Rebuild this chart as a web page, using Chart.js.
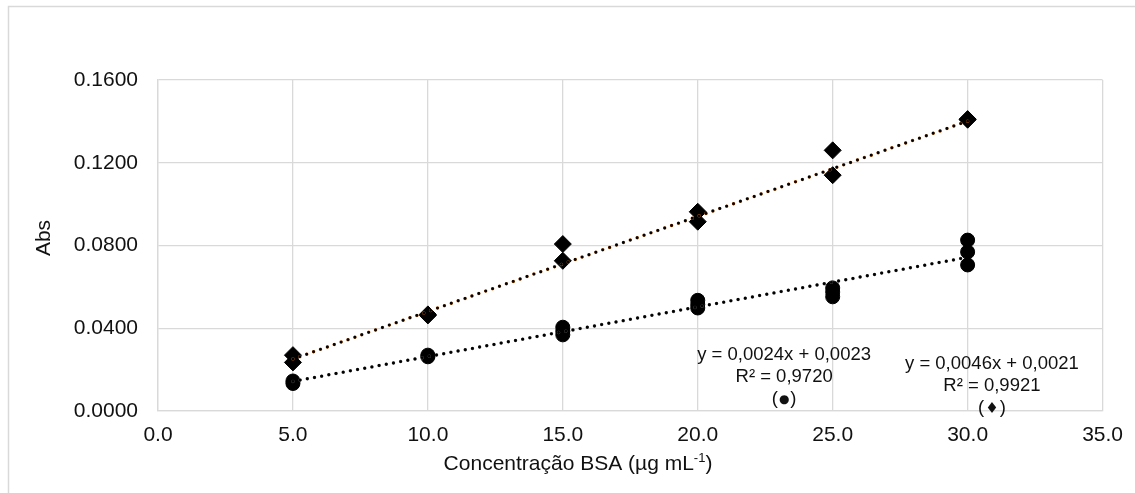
<!DOCTYPE html>
<html>
<head>
<meta charset="utf-8">
<script src="https://cdn.jsdelivr.net/npm/chart.js@4.4.1/dist/chart.umd.min.js"></script>
<style>
  html, body { margin: 0; padding: 0; background: #fff; }
  #wrap { width: 1135px; height: 493px; position: relative; }
</style>
</head>
<body>
<div id="wrap"><canvas id="c" width="1135" height="493"></canvas></div>
<script>
// ---- data ----
const diamondX = [5, 5, 10, 10, 15, 15, 20, 20, 25, 25, 30, 30];
const diamondY = [0.027, 0.0235, 0.0467, 0.0462, 0.0807, 0.0726, 0.0963, 0.0915, 0.1260, 0.1140, 0.1411, 0.1408];
const circleX = [5, 5, 10, 10, 15, 15, 15, 20, 20, 20, 25, 25, 25, 30, 30, 30];
const circleY = [0.0145, 0.0133, 0.0270, 0.0262, 0.0405, 0.0386, 0.0368, 0.0535, 0.0515, 0.0498, 0.0595, 0.0575, 0.0552, 0.0826, 0.0769, 0.0706];
const trendX = [5, 30];
const trendDiamondY = [0.0251, 0.1401];
const trendCircleY = [0.0143, 0.0743];
const xTicks = [0, 5, 10, 15, 20, 25, 30, 35];
const yTicks = [0, 0.04, 0.08, 0.12, 0.16];
const xTitle = 'Concentração BSA (µg mL';
const xTitleSup = '-1';
const xTitleEnd = ')';
const yTitle = 'Abs';
const eqCircle = ['y = 0,0024x + 0,0023', 'R² = 0,9720', '(●)'];
const eqDiamond = ['y = 0,0046x + 0,0021', 'R² = 0,9921', '(♦)'];

const pts = (xs, ys) => xs.map((x, i) => ({ x: x, y: ys[i] }));

const FONT = '"Liberation Sans", Arial, sans-serif';

const framePlugin = {
  id: 'frame',
  beforeDraw(chart) {
    const ctx = chart.ctx;
    ctx.save();
    ctx.fillStyle = '#fff';
    ctx.fillRect(0, 0, chart.width, chart.height);
    ctx.strokeStyle = '#d9d9d9';
    ctx.lineWidth = 1.5;
    ctx.beginPath();
    ctx.moveTo(8.5, chart.height + 2);
    ctx.lineTo(8.5, 6.5);
    ctx.lineTo(chart.width + 2, 6.5);
    ctx.stroke();
    ctx.restore();
  },
  afterDraw(chart) {
    const ctx = chart.ctx;
    const xs = chart.scales.x, ys = chart.scales.y;
    ctx.save();
    ctx.fillStyle = '#111';
    // x title with superscript
    ctx.font = '21px ' + FONT;
    ctx.textBaseline = 'middle';
    const w1 = ctx.measureText(xTitle).width;
    ctx.font = '13px ' + FONT;
    const w2 = ctx.measureText(xTitleSup).width;
    ctx.font = '21px ' + FONT;
    const w3 = ctx.measureText(xTitleEnd).width;
    const total = w1 + w2 + w3;
    let sx = 578 - total / 2;
    const ty = 464;
    ctx.textAlign = 'left';
    ctx.fillText(xTitle, sx, ty);
    ctx.font = '13px ' + FONT;
    ctx.fillText(xTitleSup, sx + w1, ty - 6);
    ctx.font = '21px ' + FONT;
    ctx.fillText(xTitleEnd, sx + w1 + w2, ty);
    // y title
    ctx.save();
    ctx.translate(44, 238);
    ctx.rotate(-Math.PI / 2);
    ctx.textAlign = 'center';
    ctx.fillText(yTitle, 0, 0);
    ctx.restore();
    // equations
    ctx.font = '18.5px ' + FONT;
    ctx.textAlign = 'center';
    const drawEq = (lines, xv, yv, symSize) => {
      const cx = xs.getPixelForValue(xv);
      const cy = ys.getPixelForValue(yv);
      lines.forEach((l, i) => {
        if (i === 2) {
          ctx.font = '18.5px ' + FONT;
          const sym = l.slice(1, 2);
          const pw = ctx.measureText('(').width;
          ctx.font = symSize + 'px "DejaVu Sans", ' + FONT;
          const sw = ctx.measureText(sym).width;
          ctx.font = '18.5px ' + FONT;
          const tw = pw * 2 + sw + 2;
          let lx = cx - tw / 2;
          ctx.textAlign = 'left';
          ctx.fillText('(', lx, cy + i * 22);
          ctx.font = symSize + 'px "DejaVu Sans", ' + FONT;
          ctx.fillText(sym, lx + pw + 1, cy + i * 22 + 1);
          ctx.font = '18.5px ' + FONT;
          ctx.fillText(')', lx + pw + sw + 2, cy + i * 22);
          ctx.textAlign = 'center';
        } else {
          ctx.fillText(l, cx, cy + i * 22);
        }
      });
    };
    drawEq(eqCircle, 23.2, 0.027, 12);
    drawEq(eqDiamond, 30.9, 0.0226, 15);
    ctx.restore();
  }
};

new Chart(document.getElementById('c'), {
  type: 'scatter',
  data: {
    datasets: [
      {
        type: 'line', data: pts(trendX, trendDiamondY),
        borderColor: '#000', borderWidth: 2.9, borderDash: [0, 7.3], borderCapStyle: 'round',
        pointRadius: 0, fill: false, showLine: true
      },
      {
        type: 'line', data: pts(trendX, trendDiamondY),
        borderColor: '#c0600f', borderWidth: 3.5, borderDash: [0, 7.3], borderCapStyle: 'round',
        pointRadius: 0, fill: false, showLine: true
      },
      {
        type: 'line', data: pts(trendX, trendCircleY),
        borderColor: '#000', borderWidth: 2.9, borderDash: [0, 7.3], borderCapStyle: 'round',
        pointRadius: 0, fill: false, showLine: true
      },
      {
        type: 'line', data: pts(trendX, trendCircleY),
        borderColor: '#555', borderWidth: 3.5, borderDash: [0, 7.3], borderCapStyle: 'round',
        pointRadius: 0, fill: false, showLine: true
      },
      {
        data: pts(diamondX, diamondY),
        pointStyle: 'rectRot', pointRadius: 8.5, pointHoverRadius: 8.5,
        backgroundColor: '#000', borderColor: '#000', borderWidth: 1
      },
      {
        data: pts(circleX, circleY),
        pointStyle: 'circle', pointRadius: 7, pointHoverRadius: 7,
        backgroundColor: '#000', borderColor: '#000', borderWidth: 1
      }
    ]
  },
  options: {
    responsive: false,
    animation: false,
    events: [],
    layout: { padding: { left: 0, top: 80, right: 30, bottom: 0 } },
    plugins: { legend: { display: false }, tooltip: { enabled: false }, title: { display: false } },
    scales: {
      x: {
        type: 'linear', min: 0, max: 35,
        afterBuildTicks: s => { s.ticks = xTicks.map(v => ({ value: v })); },
        afterFit: s => { s.height = 82; },
        grid: { color: '#d9d9d9', lineWidth: 1.3, drawTicks: false },
        border: { color: '#d9d9d9', width: 1.3 },
        ticks: {
          padding: 12, maxRotation: 0, color: '#111',
          font: { family: FONT, size: 21 },
          callback: v => Number(v).toFixed(1)
        }
      },
      y: {
        type: 'linear', min: 0, max: 0.16,
        afterBuildTicks: s => { s.ticks = yTicks.map(v => ({ value: v })); },
        afterFit: s => { s.width = 158; },
        grid: { color: '#d9d9d9', lineWidth: 1.3, drawTicks: false },
        border: { color: '#d9d9d9', width: 1.3 },
        ticks: {
          padding: 20, color: '#111',
          font: { family: FONT, size: 21 },
          callback: v => Number(v).toFixed(4)
        }
      }
    }
  },
  plugins: [framePlugin]
});
</script>
</body>
</html>
